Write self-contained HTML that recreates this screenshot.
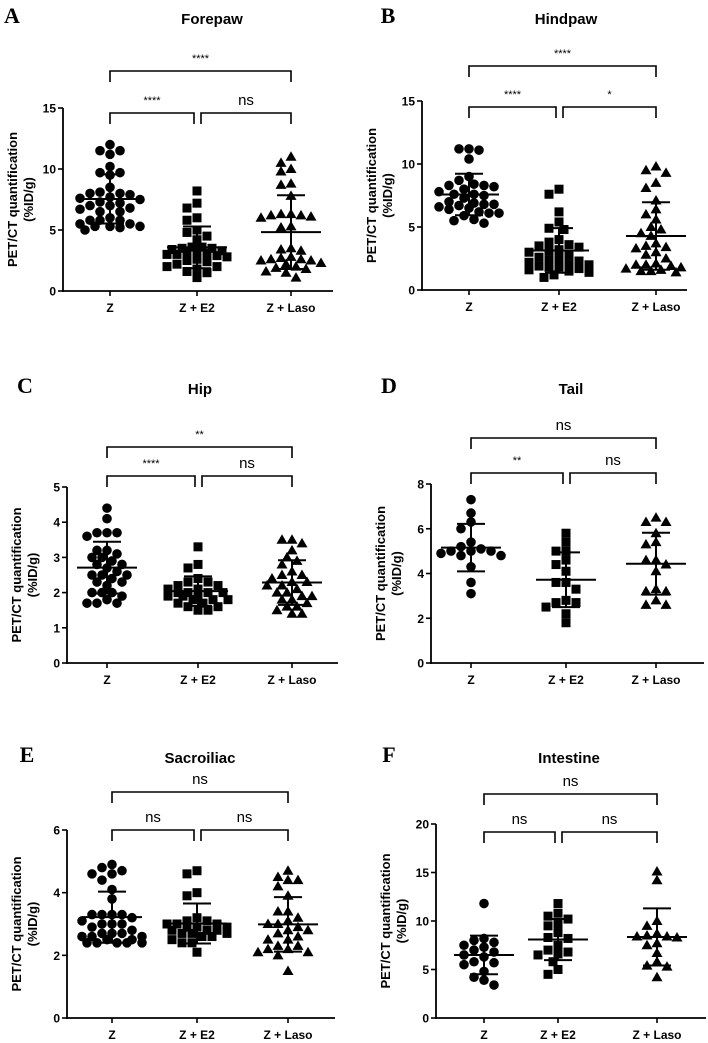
<!DOCTYPE html>
<html><head><meta charset="utf-8">
<style>
html,body{margin:0;padding:0;background:#fff;}
svg{display:block;font-family:"Liberation Sans",Arial,sans-serif;}
</style></head>
<body>
<svg id="fig" width="708" height="1043" viewBox="0 0 708 1043" xmlns="http://www.w3.org/2000/svg"></svg>
<script>
// ---- data ----
const categories = ["Z", "Z + E2", "Z + Laso"];
const forepawZ = [12.0,11.5,11.2,11.5,10.2,9.7,9.5,9.7,8.5,8.0,8.0,7.9,8.1,7.7,7.5,7.6,7.0,7.0,7.3,7.2,6.8,6.5,6.5,6.7,5.8,5.8,6.0,5.8,5.5,5.3,5.3,5.2,5.0,5.3,5.5];
const forepawE2 = [8.2,7.2,6.8,6.0,5.8,5.0,4.8,4.5,4.2,3.6,3.5,3.4,3.3,3.2,3.0,3.0,2.9,2.8,3.3,3.5,2.6,2.5,2.4,2.2,2.0,2.0,1.8,1.6,1.5,1.1,3.1,3.6];
const forepawLaso = [11.0,10.5,10.0,9.8,8.8,8.7,7.8,6.3,6.2,6.2,6.0,6.1,6.3,5.3,5.2,3.5,3.3,3.4,2.7,2.6,2.5,2.6,2.5,2.2,2.3,2.0,1.9,1.8,1.6,1.5,1.1,2.8];
const hindpawZ = [11.2,11.1,11.2,10.4,9.0,8.7,8.4,8.3,8.2,8.3,8.0,7.8,7.6,7.5,7.6,7.3,7.0,6.9,6.8,6.8,6.7,6.6,6.5,6.4,6.2,6.1,6.1,5.9,5.6,5.5,5.3];
const hindpawE2 = [8.0,7.6,6.2,5.4,4.9,4.8,4.0,3.8,3.6,3.5,3.4,3.2,3.1,3.0,2.8,2.6,2.5,2.4,2.3,2.1,2.0,1.9,1.8,1.8,1.7,1.6,1.5,1.4,1.2,1.0,2.2];
const hindpawLaso = [9.8,9.5,9.3,8.5,8.1,7.1,6.4,6.0,5.6,5.0,4.8,4.5,4.3,3.7,3.5,3.4,3.3,3.0,2.8,2.5,2.1,2.0,2.0,1.9,1.8,1.7,1.6,1.5,1.5,1.4];
const hipZ = [4.4,4.1,3.7,3.7,3.7,3.6,3.2,3.2,3.1,3.0,3.0,2.9,2.8,2.7,2.5,2.5,2.5,2.4,2.3,2.3,2.2,2.0,2.0,2.0,1.9,1.8,1.7,1.7,1.7,2.6,2.8];
const hipE2 = [3.3,2.8,2.7,2.4,2.3,2.3,2.2,2.1,2.1,2.0,2.0,2.0,1.9,1.9,1.8,1.8,1.8,1.7,1.7,1.6,1.6,1.5,1.5,2.2,2.0,1.9];
const hipLaso = [3.5,3.4,3.5,3.2,3.0,2.9,2.8,2.6,2.5,2.4,2.3,2.3,2.2,2.2,2.1,2.0,2.0,1.9,1.9,1.8,1.8,1.7,1.6,1.6,1.5,1.4,1.4,2.5];
const tailZ = [7.3,6.7,6.3,6.0,5.4,5.0,5.1,5.0,5.2,4.9,4.8,5.0,4.8,4.3,3.6,3.1];
const tailE2 = [5.8,5.4,5.0,5.0,4.6,4.4,4.1,3.6,3.6,3.3,2.8,2.7,2.7,2.5,2.2,1.8];
const tailLaso = [6.5,6.3,6.3,5.8,5.4,5.3,4.6,4.6,4.4,4.1,3.3,3.2,3.2,2.8,2.6,2.6];
const sacroZ = [4.9,4.8,4.7,4.6,4.6,4.4,4.1,3.8,3.3,3.3,3.3,3.3,3.2,3.1,3.0,3.0,3.0,2.9,2.8,2.7,2.7,2.6,2.6,2.5,2.5,2.4,2.4,2.4,2.4,2.4,2.6,2.7];
const sacroE2 = [4.7,4.6,4.0,3.9,3.2,3.1,3.1,3.0,3.0,2.9,2.9,2.9,2.8,2.8,2.7,2.7,2.7,2.6,2.6,2.5,2.4,2.4,2.1,3.0,2.8];
const sacroLaso = [4.7,4.5,4.4,4.4,4.2,3.9,3.4,3.4,3.2,3.1,3.0,3.0,2.9,2.8,2.8,2.7,2.6,2.5,2.5,2.3,2.3,2.2,2.2,2.1,2.1,2.0,1.5];
const intestZ = [11.8,8.2,8.0,7.8,7.5,7.3,7.0,6.8,6.5,6.3,5.8,5.7,5.5,4.8,4.2,3.9,3.4];
const intestE2 = [11.8,10.8,10.5,10.2,9.7,9.5,8.8,8.3,8.2,7.5,7.0,6.8,6.6,6.5,5.8,5.0,4.5];
const intestLaso = [15.1,14.2,10.0,9.5,8.7,8.5,8.4,8.4,8.3,7.7,7.5,6.7,5.8,5.4,5.3,4.2];
// tick labels
const ticksForepaw = [0,5,10,15];
const ticksHindpaw = [0,5,10,15];
const ticksHip = [0,1,2,3,4,5];
const ticksTail = [0,2,4,6,8];
const ticksSacro = [0,2,4,6];
const ticksIntest = [0,5,10,15,20];
// significance labels: [Z vs E2, E2 vs Laso, Z vs Laso]
const sigForepaw = ["****","ns","****"];
const sigHindpaw = ["****","*","****"];
const sigHip = ["****","ns","**"];
const sigTail = ["**","ns","ns"];
const sigSacro = ["ns","ns","ns"];
const sigIntest = ["ns","ns","ns"];

// ---- layout (geometry only) ----
const panels = [
 {id:"forepaw",letter:"A",title:"Forepaw",lx:12,tx:212,ty:18,ax:63,axEnd:333,yTop:108,y0:291,cx:[110,197,291],br1:71,br2:113,data:[forepawZ,forepawE2,forepawLaso],ticks:ticksForepaw,sig:sigForepaw},
 {id:"hindpaw",letter:"B",title:"Hindpaw",lx:388,tx:566,ty:18,ax:422,axEnd:687,yTop:101,y0:290,cx:[469,559,656],br1:66,br2:107,data:[hindpawZ,hindpawE2,hindpawLaso],ticks:ticksHindpaw,sig:sigHindpaw},
 {id:"hip",letter:"C",title:"Hip",lx:25,tx:200,ty:388,ax:67,axEnd:338,yTop:487,y0:663,cx:[107,198,292],br1:447,br2:476,data:[hipZ,hipE2,hipLaso],ticks:ticksHip,sig:sigHip},
 {id:"tail",letter:"D",title:"Tail",lx:389,tx:571,ty:388,ax:431,axEnd:704,yTop:484,y0:663,cx:[471,566,656],br1:438,br2:473,data:[tailZ,tailE2,tailLaso],ticks:ticksTail,sig:sigTail},
 {id:"sacroiliac",letter:"E",title:"Sacroiliac",lx:27,tx:200,ty:757,ax:67,axEnd:335,yTop:830,y0:1018,cx:[112,197,288],br1:792,br2:830,data:[sacroZ,sacroE2,sacroLaso],ticks:ticksSacro,sig:sigSacro},
 {id:"intestine",letter:"F",title:"Intestine",lx:389,tx:569,ty:757,ax:436,axEnd:706,yTop:824,y0:1018,cx:[484,558,657],br1:794,br2:832,data:[intestZ,intestE2,intestLaso],ticks:ticksIntest,sig:sigIntest}
];
const NS = "http://www.w3.org/2000/svg";
const svg = document.getElementById("fig");
function mk(tag, attrs, parent){
  const e = document.createElementNS(NS, tag);
  for (const k in attrs) e.setAttribute(k, attrs[k]);
  (parent||svg).appendChild(e);
  return e;
}
function line(g,x1,y1,x2,y2,w){ return mk("line",{x1,y1,x2,y2,stroke:"#000","stroke-width":w||1.6},g); }

panels.forEach(p=>{
  const g = mk("g",{});
  
  
  const yMax = p.ticks[p.ticks.length-1];
  const ys = v => p.y0 - (v / yMax) * (p.y0 - p.yTop);

  const L = mk("text",{x:p.lx,y:p.ty+5,"font-family":"Liberation Serif,serif","font-size":22,"font-weight":"bold","text-anchor":"middle"},g);
  L.textContent = p.letter;
  
  
  const T = mk("text",{x:p.tx,y:p.ty+6,"font-size":15,"font-weight":"bold","text-anchor":"middle"},g);
  T.textContent = p.title;
  
  

  const ya = mk("g",{},g);
  
  
  line(ya,p.ax,p.yTop,p.ax,p.y0+1,1.8);
  p.ticks.forEach(t=>{
    const y = ys(t);
    line(ya,p.ax-5,y,p.ax,y,1.6);
    const tt = mk("text",{x:p.ax-7,y:y+4.5,"font-size":12,"font-weight":"bold","text-anchor":"end"},ya);
    tt.textContent = t;
    
    
  });
  const ym = (p.yTop + p.y0) / 2;
  const yt = mk("text",{transform:`translate(${p.ax-46},${ym}) rotate(-90)`,"font-size":13,"font-weight":"bold","text-anchor":"middle"},g);
  yt.textContent = "PET/CT quantification";
  
  
  const yt2 = mk("text",{transform:`translate(${p.ax-30},${ym}) rotate(-90)`,"font-size":13,"font-weight":"bold","text-anchor":"middle"},g);
  yt2.textContent = "(%ID/g)";
  
  

  const xa = mk("g",{},g);
  
  
  line(xa,p.ax,p.y0,p.axEnd,p.y0,1.8);
  categories.forEach((c,i)=>{
    line(xa,p.cx[i],p.y0,p.cx[i],p.y0+5,1.6);
    const ct = mk("text",{x:p.cx[i],y:p.y0+21,"font-size":12,"font-weight":"bold","text-anchor":"middle"},xa);
    ct.textContent = c;
    
    
  });

  const brs = [[p.cx[0],p.cx[1]-3,p.br2,p.sig[0]],[p.cx[1]+4,p.cx[2],p.br2,p.sig[1]],[p.cx[0],p.cx[2],p.br1,p.sig[2]]];
  brs.forEach(b=>{
    const bg = mk("g",{},g);
    
    
    mk("path",{d:`M${b[0]},${b[2]+11} V${b[2]} H${b[1]} V${b[2]+11}`,fill:"none",stroke:"#000","stroke-width":1.6},bg);
    const stars = b[3] !== "ns";
    const st = mk("text",{x:(b[0]+b[1])/2,y:stars?b[2]-9:b[2]-8,"font-size":stars?11:15,"text-anchor":"middle"},bg);
    st.textContent = b[3];
    
    
  });

  p.data.forEach((vals,gi)=>{
    const sg = mk("g",{},g);
    
    
    const cx = p.cx[gi];
    const placed = [];
    const sorted = vals.map((v,i)=>({v,i})).sort((a,b)=>b.v-a.v);
    sorted.forEach(o=>{
      const y = ys(o.v);
      let best = 0, bestD = -1;
      for (let k=0;k<13;k++){
        const cand = k===0?0:(k%2? -Math.ceil(k/2):Math.ceil(k/2))*5;
        const d = placed.reduce((m,q)=>Math.min(m,Math.hypot(q.x-(cx+cand),q.y-y)),99);
        if (d >= 8.5){ best = cand; bestD = d; break; }
        if (d > bestD){ bestD = d; best = cand; }
      }
      const x = cx+best;
      placed.push({x,y});
      let m;
      if (gi===0) m = mk("circle",{cx:x,cy:y,r:4.8,fill:"#000"},sg);
      else if (gi===1) m = mk("rect",{x:x-4.5,y:y-4.5,width:9,height:9,fill:"#000"},sg);
      else m = mk("path",{d:`M${x},${y-5.5} L${x+5.5},${y+4} L${x-5.5},${y+4} Z`,fill:"#000"},sg);
      
      
    });
    const n = vals.length;
    const mean = vals.reduce((a,b)=>a+b,0)/n;
    const sd = Math.sqrt(vals.reduce((a,b)=>a+(b-mean)*(b-mean),0)/(n-1));
    const eg = mk("g",{},sg);
    
    
    line(eg,cx-30,ys(mean),cx+30,ys(mean),2);
    line(eg,cx,ys(mean+sd),cx,ys(mean-sd),2);
    line(eg,cx-14,ys(mean+sd),cx+14,ys(mean+sd),2);
    line(eg,cx-14,ys(mean-sd),cx+14,ys(mean-sd),2);
  });
});
</script>
</body></html>
